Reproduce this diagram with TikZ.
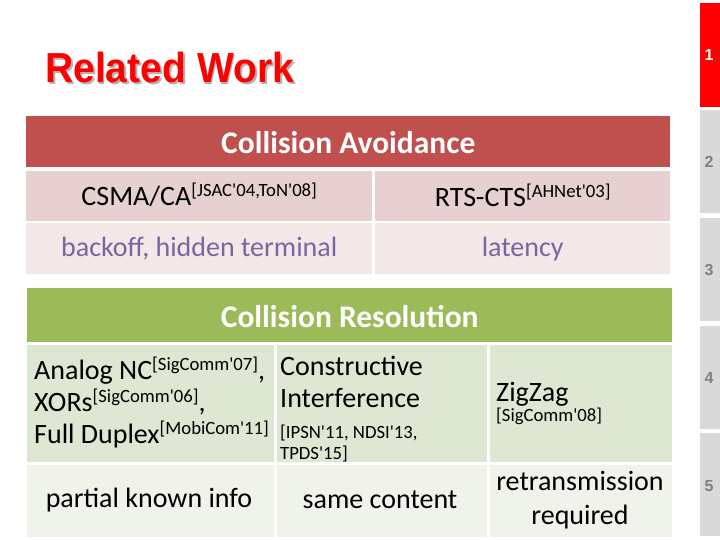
\documentclass[tikz,border=0pt]{standalone}
\usepackage{fontspec}
\setmainfont{Carlito}[Ligatures=TeXOff]
\newfontfamily\arialf{Liberation Sans}
\definecolor{avhead}{HTML}{C0504D}
\definecolor{avrowa}{HTML}{E7D0D0}
\definecolor{avrowb}{HTML}{F2E8E8}
\definecolor{rshead}{HTML}{9BBB59}
\definecolor{rsrowa}{HTML}{DEE7D1}
\definecolor{rsrowb}{HTML}{EFF3EA}
\definecolor{purpletxt}{HTML}{7F63A1}
\definecolor{tabgray}{HTML}{D9D9D9}
\definecolor{tabnum}{HTML}{808080}
\newcommand{\sref}[1]{\raisebox{9pt}{\fontsize{18.7}{20}\selectfont #1}}
\newcommand{\shadowed}[1]{\rlap{\hspace{2pt}\raisebox{-2pt}{\color{black!30}#1}}#1}
\begin{document}
\begin{tikzpicture}[x=1pt,y=-1pt,
  cell/.style={draw=none,inner sep=0pt,anchor=north west},
  big/.style={font=\fontsize{28}{32}\selectfont,inner sep=0pt},
  hdr/.style={font=\fontsize{31.5}{34}\selectfont\bfseries,text=white,inner sep=0pt},
  small/.style={font=\fontsize{18.7}{21}\selectfont,inner sep=0pt},
  tab/.style={cell,fill=tabgray,minimum width=20pt,minimum height=103pt},
  tabtxt/.style={font=\arialf\bfseries\fontsize{16}{17}\selectfont,text=tabnum,inner sep=0pt}]
\useasboundingbox (0,0) rectangle (720,540);
\fill[white] (0,0) rectangle (720,540);
% title
\node[anchor=west,inner sep=0pt,text=red,font=\arialf\bfseries\fontsize{42}{44}\selectfont] (title) at (45,68) {\scalebox{0.93}[1]{\shadowed{Related Work}}};
% sidebar
\node[tab,fill=red,minimum height=104pt] (t1) at (700,3) {};
\node[tab] (t2) at (700,110) {};
\node[tab] (t3) at (700,218) {};
\node[tab] (t4) at (700,326) {};
\node[tab] (t5) at (700,433) {};
\node[tabtxt,text=white] (n1) at (709,55) {1};
\node[tabtxt] (n2) at (709,162) {2};
\node[tabtxt] (n3) at (709,270) {3};
\node[tabtxt] (n4) at (709,378) {4};
\node[tabtxt] (n5) at (709,486) {5};
% collision avoidance
\node[cell,fill=avhead,minimum width=644pt,minimum height=51pt] (ah) at (26,116) {};
\node[cell,fill=avrowa,minimum width=346pt,minimum height=50pt] (a11) at (26,171) {};
\node[cell,fill=avrowa,minimum width=295pt,minimum height=50pt] (a12) at (375,171) {};
\node[cell,fill=avrowb,minimum width=346pt,minimum height=51pt] (a21) at (26,223) {};
\node[cell,fill=avrowb,minimum width=295pt,minimum height=51pt] (a22) at (375,223) {};
\node[hdr] (aht) at ([yshift=-1pt]ah.center) {Collision Avoidance};
\node[big] (a11t) at ([yshift=1pt]a11.center) {CSMA/CA\sref{[JSAC'04,ToN'08]}};
\node[big] (a12t) at ([yshift=1pt]a12.center) {RTS-CTS\sref{[AHNet'03]}};
\node[big,text=purpletxt] (a21t) at (a21.center) {backoff, hidden terminal};
\node[big,text=purpletxt] (a22t) at (a22.center) {latency};
% collision resolution
\node[cell,fill=rshead,minimum width=645pt,minimum height=54pt] (rh) at (27,288) {};
\node[cell,fill=rsrowa,minimum width=247pt,minimum height=117pt] (r11) at (27,345) {};
\node[cell,fill=rsrowa,minimum width=210pt,minimum height=117pt] (r12) at (277,345) {};
\node[cell,fill=rsrowa,minimum width=182pt,minimum height=117pt] (r13) at (490,345) {};
\node[cell,fill=rsrowb,minimum width=247pt,minimum height=72pt] (r21) at (27,465) {};
\node[cell,fill=rsrowb,minimum width=210pt,minimum height=72pt] (r22) at (277,465) {};
\node[cell,fill=rsrowb,minimum width=182pt,minimum height=72pt] (r23) at (490,465) {};
\node[hdr] (rht) at ([yshift=-1pt]rh.center) {Collision Resolution};
\node[big,anchor=west,align=left] (r11t) at (34,402) {Analog NC\sref{[SigComm'07]},\\XORs\sref{[SigComm'06]},\\Full Duplex\sref{[MobiCom'11]}};
\node[big,anchor=west,align=left] (r12t) at (280,382) {Constructive\\Interference};
\node[small,anchor=west,align=left] (r12s) at (280,444) {[IPSN'11, NDSI'13,\\TPDS'15]};
\node[big,anchor=north west,align=left] (r13t) at (496,382) {ZigZag\\[-12pt]{\fontsize{18.7}{21}\selectfont [SigComm'08]}};
\node[big] (r21t) at (149,500) {partial known info};
\node[big] (r22t) at (380,500) {same content};
\node[big,align=center,font=\fontsize{28}{34}\selectfont] (r23t) at (580,500) {retransmission\\required};
\end{tikzpicture}
\end{document}
